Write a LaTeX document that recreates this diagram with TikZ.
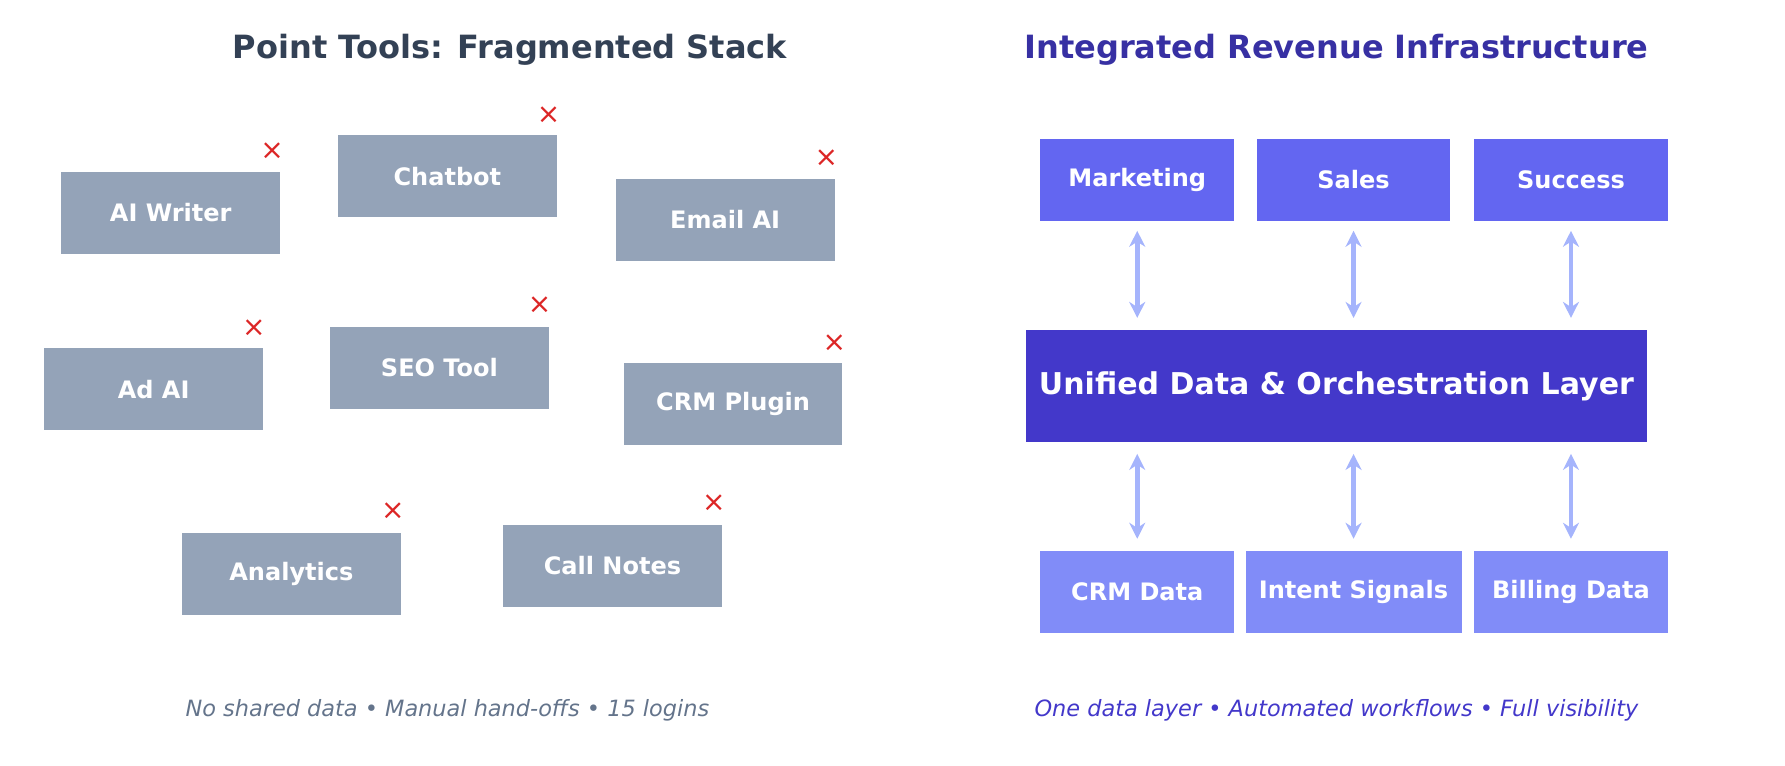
\documentclass[tikz,border=0pt]{standalone}
\usepackage{fontspec}
\setmainfont{DejaVu Sans}
\usetikzlibrary{arrows.meta}
\definecolor{gbox}{HTML}{94A3B8}
\definecolor{xred}{HTML}{DC2626}
\definecolor{topc}{HTML}{6366F1}
\definecolor{midc}{HTML}{4338CA}
\definecolor{botc}{HTML}{818CF8}
\definecolor{arrc}{HTML}{A5B4FC}
\definecolor{ltitle}{HTML}{334155}
\definecolor{rtitle}{HTML}{3730A3}
\definecolor{lcap}{HTML}{64748B}
\definecolor{rcap}{HTML}{4338CA}
\tikzset{
 tool/.style={fill=gbox,minimum width=1.92cm,minimum height=0.72cm,text=white,font=\fontsize{6}{7}\selectfont\bfseries},
 xmark/.style={text=xred,font=\fontsize{7}{8}\selectfont},
 rbox/.style={minimum width=1.70cm,minimum height=0.72cm,text=white,font=\fontsize{6}{7}\selectfont\bfseries},
 biarrow/.style={{Stealth[length=4pt,width=4pt]}-{Stealth[length=4pt,width=4pt]},draw=arrc,line width=1.2pt}
}
\begin{document}
\begin{tikzpicture}[x=0.01cm,y=-0.01cm]
\useasboundingbox (0,0) rectangle (1568,672);
\node[text=ltitle,font=\fontsize{8}{9}\selectfont\bfseries] (lt) at (448,44) {Point Tools: Fragmented Stack};
\node[text=rtitle,font=\fontsize{8}{9}\selectfont\bfseries] (rt) at (1174,44) {Integrated Revenue Infrastructure};
\node[tool] (a1) at (150,187) {AI Writer};
\node[tool] (a2) at (393,155) {Chatbot};
\node[tool] (a3) at (637,193) {Email AI};
\node[tool] (a4) at (135,342) {Ad AI};
\node[tool] (a5) at (386,323) {SEO Tool};
\node[tool] (a6) at (644,355) {CRM Plugin};
\node[tool] (a7) at (256,504) {Analytics};
\node[tool] (a8) at (538,497) {Call Notes};
\node[xmark] (x1) at (239,133) {×};
\node[xmark] (x2) at (482,101) {×};
\node[xmark] (x3) at (726,139) {×};
\node[xmark] (x4) at (223,288) {×};
\node[xmark] (x5) at (474,268) {×};
\node[xmark] (x6) at (733,301) {×};
\node[xmark] (x7) at (345,449) {×};
\node[xmark] (x8) at (627,442) {×};
\node[rbox,fill=topc] (t1) at (999,158) {Marketing};
\node[rbox,fill=topc] (t2) at (1189,158) {Sales};
\node[rbox,fill=topc] (t3) at (1380,158) {Success};
\node[fill=midc,minimum width=5.34cm,minimum height=0.98cm,text=white,font=\fontsize{7.5}{9}\selectfont\bfseries] (m) at (1174,339) {Unified Data \& Orchestration Layer};
\node[rbox,fill=botc] (b1) at (999,520) {CRM Data};
\node[rbox,fill=botc] (b2) at (1189,520) {Intent Signals};
\node[rbox,fill=botc] (b3) at (1380,520) {Billing Data};
\foreach \i in {1,2,3}{
 \draw[biarrow] ([yshift=-0.08cm]t\i.south) -- ([yshift=0.1cm]t\i.south |- m.north);
 \draw[biarrow] ([yshift=-0.1cm]b\i.north |- m.south) -- ([yshift=0.1cm]b\i.north);
}
\node[text=lcap,font=\fontsize{5.6}{7}\selectfont\itshape] (lc) at (393,624) {No shared data • Manual hand-offs • 15 logins};
\node[text=rcap,font=\fontsize{5.6}{7}\selectfont\itshape] (rc) at (1174,624) {One data layer • Automated workflows • Full visibility};
\end{tikzpicture}
\end{document}
